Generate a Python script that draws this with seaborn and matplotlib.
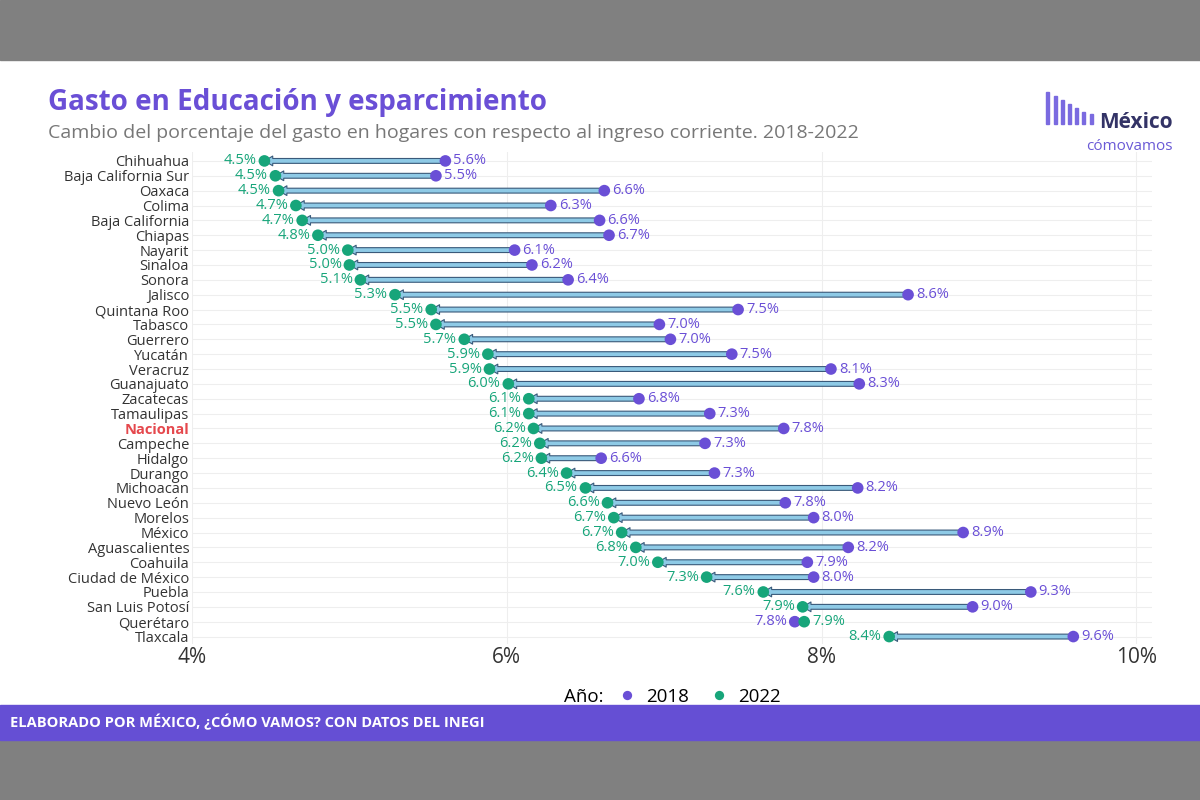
import matplotlib
matplotlib.use("Agg")
import matplotlib.pyplot as plt
import seaborn as sns
import pandas as pd
from matplotlib.offsetbox import HPacker

states = ["Chihuahua","Baja California Sur","Oaxaca","Colima","Baja California","Chiapas","Nayarit","Sinaloa","Sonora","Jalisco","Quintana Roo","Tabasco","Guerrero","Yucatán","Veracruz","Guanajuato","Zacatecas","Tamaulipas","Nacional","Campeche","Hidalgo","Durango","Michoacan","Nuevo León","Morelos","México","Aguascalientes","Coahuila","Ciudad de México","Puebla","San Luis Potosí","Querétaro","Tlaxcala"]
v2018 = [5.61,5.55,6.62,6.28,6.59,6.65,6.05,6.16,6.39,8.55,7.47,6.97,7.04,7.43,8.06,8.24,6.84,7.29,7.76,7.26,6.60,7.32,8.23,7.77,7.95,8.90,8.17,7.91,7.95,9.33,8.96,7.83,9.60]
v2022 = [4.46,4.53,4.55,4.66,4.70,4.80,4.99,5.00,5.07,5.29,5.52,5.55,5.73,5.88,5.89,6.01,6.14,6.14,6.17,6.21,6.22,6.38,6.50,6.64,6.68,6.73,6.82,6.96,7.27,7.63,7.88,7.89,8.43]
lab2018 = ["5.6%","5.5%","6.6%","6.3%","6.6%","6.7%","6.1%","6.2%","6.4%","8.6%","7.5%","7.0%","7.0%","7.5%","8.1%","8.3%","6.8%","7.3%","7.8%","7.3%","6.6%","7.3%","8.2%","7.8%","8.0%","8.9%","8.2%","7.9%","8.0%","9.3%","9.0%","7.8%","9.6%"]
lab2022 = ["4.5%","4.5%","4.5%","4.7%","4.7%","4.8%","5.0%","5.0%","5.1%","5.3%","5.5%","5.5%","5.7%","5.9%","5.9%","6.0%","6.1%","6.1%","6.2%","6.2%","6.2%","6.4%","6.5%","6.6%","6.7%","6.7%","6.8%","7.0%","7.3%","7.6%","7.9%","7.9%","8.4%"]

PURPLE = "#6a4fd6"; GREEN = "#17a57a"
plt.rcParams['font.family'] = ['Open Sans', 'DejaVu Sans']
fig = plt.figure(figsize=(12, 8), dpi=100)
fig.patch.set_facecolor("white")
fig.add_artist(plt.Rectangle((0, 0.925), 1, 0.075, color="#808080", transform=fig.transFigure))
fig.add_artist(plt.Rectangle((0, 0), 1, 0.075, color="#808080", transform=fig.transFigure))
fig.add_artist(plt.Rectangle((0, 0.075), 1, 0.044, color="#654fd4", transform=fig.transFigure))
fig.text(0.008, 0.097, "ELABORADO POR MÉXICO, ¿CÓMO VAMOS? CON DATOS DEL INEGI", color="white",
         fontsize=10.5, fontweight="bold", va="center")
fig.text(0.04, 0.862, "Gasto en Educación y esparcimiento", color=PURPLE, fontsize=20, fontweight="bold")
fig.text(0.04, 0.827, "Cambio del porcentaje del gasto en hogares con respecto al ingreso corriente. 2018-2022",
         color="#777777", fontsize=14)
for i, h in enumerate([0.04,0.035,0.03,0.025,0.02,0.015,0.012]):
    fig.add_artist(plt.Rectangle((0.872+i*0.006, 0.845), 0.0025, h, color="#7a6ae0", transform=fig.transFigure))
fig.text(0.977, 0.84, "México", fontsize=15, fontweight="bold", color="#333366", ha="right")
fig.text(0.977, 0.812, "cómovamos", fontsize=11, color="#6a5ad6", ha="right")

ax = fig.add_axes([0.16, 0.195, 0.8, 0.615])
n = len(states)
ys = list(range(n))
for i in range(n):
    col = "#e57373" if v2022[i] > v2018[i] else "#8ecae6"
    ax.annotate("", xy=(v2022[i], i), xytext=(v2018[i], i),
                arrowprops=dict(arrowstyle="simple,head_length=0.6,head_width=0.7,tail_width=0.35",
                                fc=col, ec="#3a5a7a", lw=0.8, shrinkA=0, shrinkB=0), zorder=2)
df = pd.DataFrame({"state": states*2, "y": ys*2, "v": v2018+v2022,
                   "Año": ["2018"]*n + ["2022"]*n})
sns.scatterplot(data=df, x="v", y="y", hue="Año", palette={"2018": PURPLE, "2022": GREEN},
                s=70, edgecolor="none", ax=ax, zorder=3)
for i in range(n):
    if v2022[i] > v2018[i]:
        ax.text(v2018[i]-0.05, i, lab2018[i], color=PURPLE, fontsize=10.5, va="center", ha="right")
        ax.text(v2022[i]+0.05, i, lab2022[i], color=GREEN, fontsize=10.5, va="center", ha="left")
    else:
        ax.text(v2018[i]+0.05, i, lab2018[i], color=PURPLE, fontsize=10.5, va="center", ha="left")
        ax.text(v2022[i]-0.05, i, lab2022[i], color=GREEN, fontsize=10.5, va="center", ha="right")
ax.set_ylim(n-0.5, -0.6)
ax.set_xlim(4, 10.1)
ax.set_xticks([4,6,8,10]); ax.set_xticklabels(["4%","6%","8%","10%"], fontsize=15, color="#333333")
ax.set_yticks(ys); ax.set_yticklabels(states, fontsize=10.5, color="#333333")
for t in ax.get_yticklabels():
    if t.get_text() == "Nacional":
        t.set_color("#e5484d"); t.set_fontweight("bold")
ax.tick_params(length=0, pad=2)
ax.grid(True, color="#eeeeee", lw=0.8); ax.set_axisbelow(True)
for s in ax.spines.values(): s.set_visible(False)
ax.set_xlabel(""); ax.set_ylabel("")
leg = ax.legend(title="Año:", loc="upper center", bbox_to_anchor=(0.5, -0.055), ncol=2,
                frameon=False, fontsize=13.5, title_fontsize=13.5, handletextpad=0.0, columnspacing=0.6,
                markerscale=0.8)
vp = leg._legend_box
title_box = vp.get_children()[0]; items = vp.get_children()[1]
vp._children = [HPacker(pad=0, sep=4, children=[title_box, items], align="center")]
fig.savefig("out.png", dpi=100)
